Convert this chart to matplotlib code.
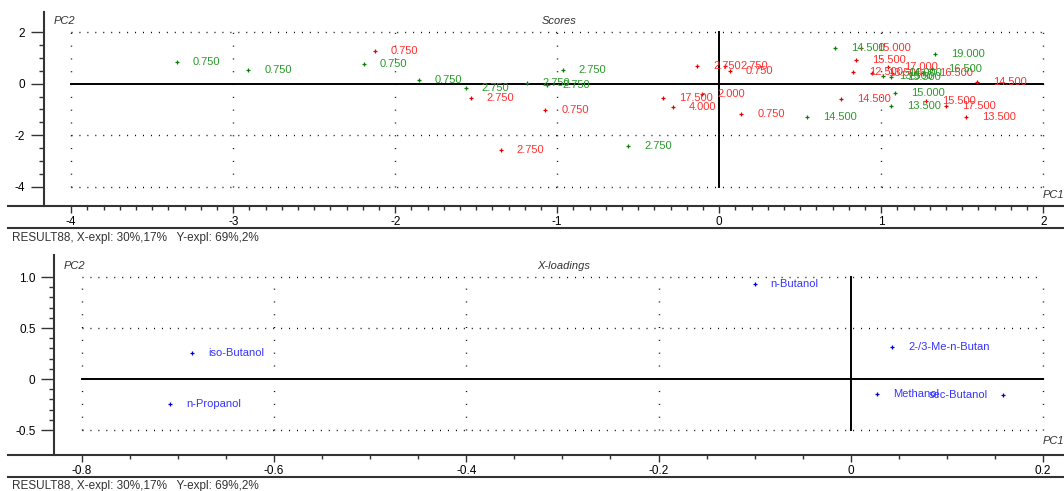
"""PCA scores and X-loadings plot (Unscrambler style)"""
import matplotlib.pyplot as plt
from matplotlib.lines import Line2D
import numpy as np

plt.rcParams['font.family'] = ['Liberation Sans', 'DejaVu Sans']
plt.rcParams['axes.unicode_minus'] = False

# Scores, red samples
RED_PC1 = [-2.127, -1.533, -1.074, -1.349, -0.346, -0.288, -0.107, -0.136, 0.035,
           0.066, 0.136, 0.751, 0.875, 0.846, 0.827, 0.941, 1.040, 1.257, 1.593,
           1.274, 1.399, 1.521]
RED_PC2 = [1.26, -0.57, -1.02, -2.59, -0.57, -0.92, -0.39, 0.70, 0.70,
           0.49, -1.18, -0.61, 1.40, 0.91, 0.45, 0.42, 0.65, 0.42, 0.07,
           -0.68, -0.87, -1.31]
RED_LABELS = ["0.750", "2.750", "0.750", "2.750", "17.500", "4.000", "2.000", "2.750",
              "2.750", "0.750", "0.750", "14.500", "15.000", "15.500", "12.500",
              "13.500", "17.000", "16.500", "14.500", "15.500", "17.500", "13.500"]

# Scores, green samples
GREEN_PC1 = [-3.349, -2.907, -2.193, -1.854, -1.565, -1.189, -1.065, -0.967, -0.562,
             0.540, 0.716, 1.330, 1.314, 1.009, 1.058, 1.065, 1.086, 1.062]
GREEN_PC2 = [0.86, 0.54, 0.75, 0.14, -0.17, 0.03, -0.05, 0.52, -2.40,
             -1.28, 1.40, 1.15, 0.57, 0.29, 0.26, 0.42, -0.35, -0.88]
GREEN_LABELS = ["0.750", "0.750", "0.750", "0.750", "2.750", "2.750", "2.750", "2.750",
                "2.750", "14.500", "14.500", "19.000", "16.500", "13.500", "15.500",
                "14.000", "15.000", "13.500"]

# X-loadings
LOAD_NAMES = ["iso-Butanol", "n-Propanol", "n-Butanol", "2-/3-Me-n-Butan",
              "Methanol", "sec-Butanol"]
LOAD_PC1 = [-0.685, -0.708, -0.100, 0.043, 0.027, 0.158]
LOAD_PC2 = [0.26, -0.245, 0.93, 0.31, -0.15, -0.155]

SCORE_XTICKS = [-4, -3, -2, -1, 0, 1, 2]
SCORE_YTICKS = [-4, -2, 0, 2]
LOAD_XTICKS = [-0.8, -0.6, -0.4, -0.2, 0, 0.2]
LOAD_XTICKLABELS = ["-0.8", "-0.6", "-0.4", "-0.2", "0", "0.2"]
LOAD_YTICKS = [-0.5, 0, 0.5, 1.0]
LOAD_YTICKLABELS = ["-0.5", "0", "0.5", "1.0"]

FOOTER = "RESULT88, X-expl: 30%,17%   Y-expl: 69%,2%"

# labels that the program puts on the left of their point (near the edge)
LEFT_SIDE = {"sec-Butanol"}

W, H = 1064, 491
RED, RED_TXT = '#e80000', '#ff3030'
GREEN, GREEN_TXT = '#0a800a', '#2a9a2a'
BLUE, BLUE_TXT = '#0000d0', '#3535ff'
AX_COL = '#333333'
FS = 8
FS_AX = 8.5


def add_axes_px(x0, y0, x1, y1):
    return fig.add_axes([x0 / W, 1 - y1 / H, (x1 - x0) / W, (y1 - y0) / H])


def frame(ax, xlim, ylim, spine_x, xticks, xlabels, xminor, yticks, ylabels, yminor):
    ax.set_xlim(*xlim)
    ax.set_ylim(*ylim)
    ax.patch.set_alpha(0)
    for s in ['top', 'right']:
        ax.spines[s].set_visible(False)
    ax.spines['left'].set_position(('data', spine_x))
    for s in ['left', 'bottom']:
        ax.spines[s].set_color(AX_COL)
        ax.spines[s].set_linewidth(1.5)
    ax.set_xticks(xticks)
    ax.set_xticklabels(xlabels)
    ax.set_xticks(xminor, minor=True)
    ax.set_yticks(yticks)
    ax.set_yticklabels(ylabels)
    ax.set_yticks(yminor, minor=True)
    ax.tick_params(axis='y', which='major', length=9.4, width=1, pad=4,
                   color=AX_COL, labelsize=FS_AX)
    ax.tick_params(axis='y', which='minor', length=3.6, width=1, color=AX_COL)
    ax.tick_params(axis='x', which='major', length=5, width=1, pad=2,
                   color=AX_COL, labelsize=FS_AX)
    ax.tick_params(axis='x', which='minor', length=2.9, width=1, color=AX_COL)

    # dotted grid inside the data box, solid zero lines
    bx0, bx1 = xticks[0], xticks[-1]
    by0, by1 = yticks[0], yticks[-1]
    for gx in xticks:
        if gx != 0:
            ax.plot([gx, gx], [by0, by1], color='black', lw=1,
                    linestyle=(0, (0.72, 8.5)))
    for gy in yticks:
        if gy != 0:
            ax.plot([bx0, bx1], [gy, gy], color='black', lw=1,
                    linestyle=(0, (0.72, 5.0)))
    ax.plot([bx0, bx1], [0, 0], color='black', lw=1.4)
    ax.plot([0, 0], [by0, by1], color='black', lw=1.4)


def points(ax, xs, ys, labels, mcol, tcol):
    ax.plot(xs, ys, linestyle='none', marker='+', ms=3.5, mew=0.9, color=mcol)
    for x, y, t in zip(xs, ys, labels):
        left = t in LEFT_SIDE
        ax.annotate(t, (x, y), xytext=(-15 if left else 16, 0),
                    textcoords='offset pixels', ha='right' if left else 'left',
                    va='center', color=tcol, fontsize=FS)


def fig_text(x, y, s, size=FS, **kw):
    fig.text(x / W, 1 - y / H, s, fontsize=size, color=AX_COL, **kw)


fig = plt.figure(figsize=(W / 100, H / 100), dpi=100)

# ---- Scores ----
ax1 = add_axes_px(8, 11.7, 1064, 206)
frame(ax1, (-4.39, 2.128), (-4.75, 2.80), -4.17,
      SCORE_XTICKS, [str(v) for v in SCORE_XTICKS], np.arange(-4, 2.001, 0.1),
      SCORE_YTICKS, [str(v) for v in SCORE_YTICKS], np.arange(-4, 2.001, 0.5))
points(ax1, RED_PC1, RED_PC2, RED_LABELS, RED, RED_TXT)
points(ax1, GREEN_PC1, GREEN_PC2, GREEN_LABELS, GREEN, GREEN_TXT)

fig_text(54, 21, "PC2", style='italic', ha='left', va='center')
fig_text(559, 21, "Scores", style='italic', ha='center', va='center')
fig_text(1064, 195, "PC1", style='italic', ha='right', va='center')

# ---- X-loadings ----
ax2 = add_axes_px(8, 255, 1064, 455)
frame(ax2, (-0.877, 0.222), (-0.745, 1.216), -0.829,
      LOAD_XTICKS, LOAD_XTICKLABELS, np.arange(-0.8, 0.2001, 0.05),
      LOAD_YTICKS, LOAD_YTICKLABELS, np.arange(-0.5, 1.0001, 0.1))
points(ax2, LOAD_PC1, LOAD_PC2, LOAD_NAMES, BLUE, BLUE_TXT)

fig_text(64, 266, "PC2", style='italic', ha='left', va='center')
fig_text(564, 266, "X-loadings", style='italic', ha='center', va='center')
fig_text(1064, 441, "PC1", style='italic', ha='right', va='center')

# footer separators and result text
for ysep, ytxt in [(228, 238.5), (477, 485.5)]:
    fig.add_artist(Line2D([8 / W, 1], [1 - ysep / H] * 2, color=AX_COL, lw=1.5))
    fig_text(12, ytxt, FOOTER, size=FS_AX, ha='left', va='center')

fig.savefig("out.png", dpi=100)
